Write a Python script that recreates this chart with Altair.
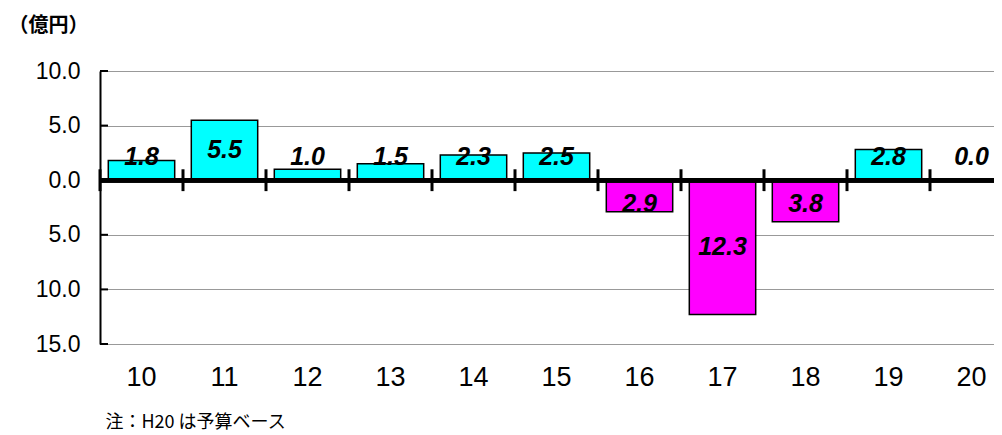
import altair as alt
import pandas as pd

years = ["10", "11", "12", "13", "14", "15", "16", "17", "18", "19", "20"]
values = [1.8, 5.5, 1.0, 1.5, 2.3, 2.5, -2.9, -12.3, -3.8, 2.8, 0.0]
labels = ["1.8", "5.5", "1.0", "1.5", "2.3", "2.5", "2.9", "12.3", "3.8", "2.8", "0.0"]
y_ticks = [-15, -10, -5, 0, 5, 10]

df = pd.DataFrame({"year": years, "value": values, "label": labels})
df["sign"] = ["pos" if v >= 0 else "neg" for v in df["value"]]
df["label_y"] = [(1 if v >= 0 else -1) * max(abs(v) / 2, 2.15) for v in df["value"]]
df_bars = df[df["value"] != 0]

ticks_df = pd.DataFrame({"t": y_ticks})

FONT = "Liberation Sans"
JP = "Noto Sans CJK JP"

xscale = alt.Scale(domain=years, range=[0, 913], paddingInner=0.2, paddingOuter=0.1)
xscale_sep = alt.Scale(domain=years, range=[0, 913], paddingInner=0, paddingOuter=0)
yscale = alt.Scale(domain=[-15, 10], nice=False, zero=False)

x_axis = alt.Axis(
    title="注：H20 は予算ベース", titleX=5, titleY=78, titleAlign="left",
    titleBaseline="middle", titleFont=JP, titleFontSize=18, titleFontWeight="normal",
    titleColor="black", labelAngle=0, labelFont=FONT, labelFontSize=27,
    labelFontWeight="normal", labelColor="black", labelPadding=20,
    domain=False, ticks=False, grid=False,
)
y_axis = alt.Axis(
    title="（億円）", titleAngle=0, titleX=-92, titleY=-46, titleAlign="left",
    titleBaseline="middle", titleFont=JP, titleFontSize=20, titleFontWeight="bold",
    titleColor="black", values=y_ticks, labelExpr="format(abs(datum.value), '.1f')",
    labelFont=FONT, labelFontSize=23, labelFontWeight="normal", labelColor="black",
    labelPadding=20, ticks=False, domain=True, domainColor="black", domainWidth=2,
    grid=True, gridColor="#999999", gridWidth=1,
)

bars = alt.Chart(df_bars).mark_bar(stroke="black", strokeWidth=1.5).encode(
    x=alt.X("year:N", scale=xscale, axis=x_axis, sort=years),
    y=alt.Y("value:Q", scale=yscale, axis=y_axis),
    y2=alt.datum(0),
    color=alt.Color("sign:N", scale=alt.Scale(domain=["pos", "neg"], range=["#00FFFF", "#FF00FF"]), legend=None),
)

zero = alt.Chart(df).mark_rule(color="black", strokeWidth=4).encode(
    y=alt.Y(datum=0),
)

yt = alt.Chart(ticks_df).mark_rule(color="black", strokeWidth=2).encode(
    x=alt.value(0), x2=alt.value(8), y=alt.Y("t:Q"),
)

text = alt.Chart(df).mark_text(
    font=FONT, fontSize=25, fontWeight="bold", fontStyle="italic", color="black",
    align="center", baseline="middle",
).encode(
    x=alt.X("year:N", sort=years),
    y=alt.Y("label_y:Q"),
    text="label:N",
)

main = alt.layer(bars, zero, yt, text)

sep = alt.Chart(df).mark_rule(color="black", strokeWidth=3).encode(
    x=alt.X("year:N", bandPosition=0, sort=years, scale=xscale_sep, axis=None),
    y=alt.Y(datum=1, scale=yscale),
    y2=alt.datum(-1),
)

chart = alt.layer(main, sep).resolve_scale(x="independent").properties(
    width=894, height=273,
    autosize=alt.AutoSizeParams(type="none"),
    padding={"left": 92, "top": 63, "right": 0, "bottom": 88},
).configure_view(stroke=None).configure(background="white")

chart.save("out.html", embed_options={"renderer": "svg", "actions": False})
